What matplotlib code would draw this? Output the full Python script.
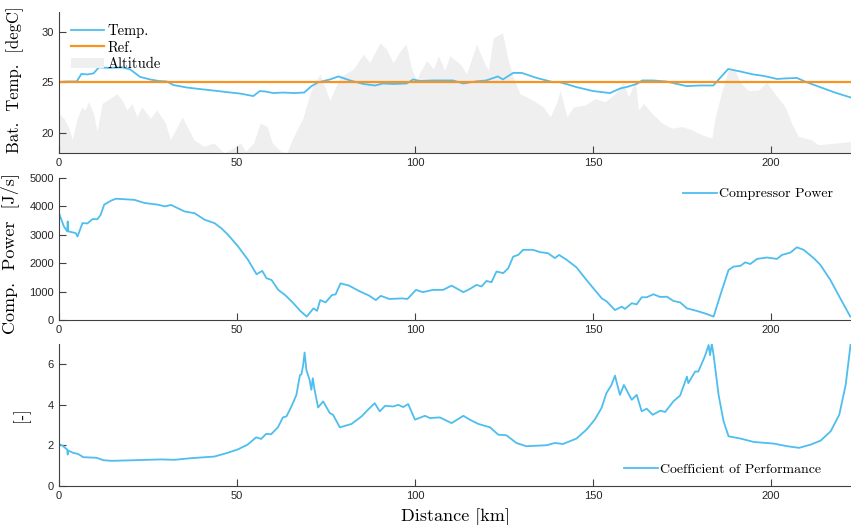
import matplotlib
matplotlib.use("Agg")
import matplotlib.pyplot as plt
from matplotlib.patches import Patch

# battery temperature along the route [km, degC]
temp_km = [0, 2, 5, 6.3, 8, 9.7, 11.2, 14, 17.8, 20, 22.8, 25.6, 28, 30.3, 32.1, 35.9,
           39.5, 43.4, 47, 50.9, 54.6, 56.4, 58, 60.2, 63, 66, 68.9, 70.8, 72.7, 76.1,
           78.5, 81.8, 85.5, 88.8, 91, 94, 97.7, 99.5, 101.4, 105, 110.7, 113.6, 117,
           120, 123.3, 124.7, 127.6, 130, 134.2, 138.8, 140.7, 145.4, 150, 154.8, 157.6,
           160, 162.4, 163.8, 166.9, 170.6, 176.3, 180, 183.8, 188, 191.3, 195, 198,
           201.7, 204, 207.3, 210, 213.8, 218, 222.5]
temp_val = [25.05, 25.1, 25.1, 25.85, 25.8, 25.9, 26.5, 26.45, 26.5, 26.3, 25.55, 25.3,
            25.15, 25.1, 24.75, 24.5, 24.35, 24.2, 24.05, 23.9, 23.65, 24.15, 24.1,
            23.95, 24.0, 23.95, 24.0, 24.6, 25.0, 25.3, 25.6, 25.2, 24.85, 24.7, 24.9,
            24.85, 24.9, 25.3, 25.15, 25.2, 25.2, 24.9, 25.1, 25.2, 25.6, 25.3, 25.95,
            25.95, 25.45, 25.03, 25.03, 24.54, 24.15, 23.95, 24.4, 24.6, 24.87, 25.2,
            25.2, 25.1, 24.64, 24.7, 24.7, 26.34, 26.1, 25.8, 25.65, 25.35, 25.4, 25.45,
            25.03, 24.54, 24.0, 23.5]
ref_temp = 25.0

# road altitude [km, m]
alt_km = [0, 0.8, 1.4, 2.8, 3.7, 5.0, 6.4, 7.3, 8.3, 9.7, 10.7, 12.1, 13.5, 14.9, 16.3,
          17.7, 19.1, 20.5, 21.9, 23.3, 25.7, 27.5, 29.9, 31.3, 32.8, 34.6, 36.0, 37.9,
          40.7, 43.5, 46.3, 49.0, 51.0, 52.4, 54.7, 56.5, 58.5, 59.9, 62.3, 64.0, 65.5,
          68.5, 70.8, 73.3, 76.1, 78.9, 82.7, 85.5, 87.3, 90.2, 92.0, 93.9, 96.2, 97.5,
          99.1, 100.5, 101.4, 103.3, 105.2, 106.6, 108.4, 109.8, 112.7, 114.5, 117.3,
          119.2, 120.6, 122.0, 124.6, 126.2, 127.6, 129.5, 133.2, 136.0, 138.0, 139.9,
          140.8, 142.7, 144.6, 147.8, 150.6, 153.4, 156.2, 158.5, 160.0, 161.9, 162.8,
          164.2, 166.6, 169.4, 172.2, 175.0, 177.8, 180.6, 183.4, 184.4, 186.3, 188.0,
          189.8, 191.3, 193.6, 196.4, 198.8, 201.1, 204.0, 205.8, 207.7, 211.4, 213.3,
          218.9, 222.5]
alt_m = [197, 180, 172, 123, 66, 164, 229, 213, 254, 197, 107, 246, 262, 278, 294,
         262, 213, 246, 180, 229, 172, 213, 148, 66, 115, 180, 131, 66,
         33, 50, 0, 25, 50, 8, 50, 148, 131, 50, 8, 0, 66,
         172, 311, 393, 262, 376, 417, 490, 449, 547, 515, 449, 515, 540,
         417, 360, 401, 458, 417, 482, 409, 482, 442, 393, 540,
         458, 409, 572, 597, 458, 376, 294, 262, 229, 180, 254,
         311, 180, 229, 238, 270, 254, 294, 351, 278, 360, 213,
         246, 197, 148, 123, 131, 115, 90, 74, 180, 311, 409,
         417, 351, 311, 311, 351, 294, 229, 148, 82, 66, 41,
         50, 58]

# compressor power [km, J/s]
pow_km = [0, 0.01, 0.5, 1.4, 2.3, 2.45, 2.6, 4.7, 5.2, 6.6, 8, 9.4, 10.8, 11.7, 12.7,
          14.6, 16, 21.2, 24, 27.8, 29.7, 31.5, 35.3, 38.1, 40.9, 43.7, 45.6, 47.5,
          50.3, 53.1, 55.5, 57.1, 58.3, 59.7, 61.6, 63.5, 65.4, 67.8, 69.6, 71.5, 72.5,
          73.4, 74.9, 76.7, 77.7, 79.1, 81.5, 84.3, 87.1, 89, 90.4, 92.8, 96.5, 97.9,
          100.3, 102.2, 105.1, 107.9, 110.3, 113.6, 115.4, 117.3, 118.7, 120.1, 121.5,
          122.9, 124.8, 126.2, 127.6, 129, 130.4, 133.2, 135.1, 137.4, 139.3, 140.5,
          142.6, 145.4, 147.8, 150.1, 152.5, 153.9, 156.2, 158.1, 159, 160.9, 162.3,
          163.7, 165.1, 167, 168.9, 170.8, 172.6, 174.5, 176.4, 179.2, 182, 183.9,
          185.8, 188.1, 189.5, 191.4, 192.8, 194.2, 196.1, 198.9, 201.7, 203.1, 205.5,
          207.3, 209.2, 212, 213.9, 216.7, 219.5, 222.3]
pow_val = [1940, 3760, 3590, 3290, 3120, 3470, 3120, 3060, 2940, 3410, 3400, 3550, 3550,
           3700, 4060, 4200, 4270, 4230, 4120, 4060, 4000, 4050, 3820, 3760, 3530, 3410,
           3230, 3000, 2590, 2120, 1610, 1730, 1470, 1410, 1060, 880, 650, 320, 120, 410,
           320, 700, 620, 880, 900, 1290, 1210, 1020, 860, 700, 850, 740, 760, 740, 1060,
           980, 1060, 1060, 1210, 980, 1090, 1235, 1180, 1375, 1330, 1705, 1650, 1820,
           2230, 2290, 2470, 2470, 2390, 2350, 2180, 2290, 2120, 1850, 1470, 1120, 760,
           650, 350, 470, 390, 590, 550, 800, 800, 905, 810, 820, 670, 620, 410, 320,
           210, 120, 880, 1760, 1880, 1905, 2030, 1970, 2150, 2200, 2150, 2290, 2375,
           2560, 2470, 2180, 1940, 1410, 760, 120]

# coefficient of performance [km, -]
cop_km = [0, 0.01, 0.9, 2.3, 2.45, 2.6, 4, 5.4, 6.8, 10.6, 12.5, 14.8, 21, 28.6, 32.4,
          37, 43.6, 47.3, 50.2, 53, 55.4, 56.8, 58.2, 59.6, 61.5, 62.9, 63.9, 65.3,
          66.7, 67.7, 68.1, 68.6, 69, 69.5, 70.4, 70.9, 71.3, 71.8, 72.8, 74.2, 76.1,
          77, 78.9, 82.2, 85, 86.8, 88.7, 90.1, 91.6, 93.9, 95.3, 96.7, 98.1, 100,
          102.8, 104.2, 107, 110.3, 113.6, 115.4, 117.8, 121.1, 123.4, 125.7, 128.5,
          131.3, 137, 139.3, 141.6, 145.4, 148.2, 150.5, 152.4, 153.8, 155.2, 156.2,
          156.6, 157.6, 158.7, 160.9, 162.3, 163.7, 165.1, 166.8, 168.9, 170.3, 172.6,
          174.5, 176.4, 176.8, 178.7, 179.6, 181, 181.5, 182.5, 182.9, 183.4, 183.9,
          185.3, 186.7, 188.1, 191.4, 195.2, 200.8, 204.6, 207.9, 211.2, 214, 216.8,
          219.2, 221, 222.4]
cop_val = [0, 2.07, 2.0, 1.8, 1.55, 1.75, 1.63, 1.58, 1.42, 1.39, 1.27, 1.24, 1.27, 1.31,
           1.29, 1.37, 1.45, 1.63, 1.8, 2.04, 2.4, 2.32, 2.57, 2.55, 2.89, 3.38, 3.43,
           3.92, 4.49, 5.47, 5.5, 5.96, 6.58, 5.72, 5.23, 4.74, 5.31, 4.74, 3.87, 4.17,
           3.59, 3.51, 2.89, 3.06, 3.43, 3.76, 4.08, 3.68, 3.95, 3.92, 4.0, 3.89, 4.04,
           3.27, 3.46, 3.35, 3.38, 3.1, 3.46, 3.27, 3.06, 2.89, 2.53, 2.5, 2.12, 1.96,
           2.01, 2.12, 2.07, 2.34, 2.78, 3.27, 3.84, 4.58, 4.98, 5.44, 5.15, 4.49, 4.98,
           4.25, 4.49, 3.68, 3.81, 3.51, 3.71, 3.65, 4.17, 4.46, 5.39, 5.07, 5.64, 5.64,
           6.21, 6.42, 6.95, 6.45, 7.0, 6.45, 4.49, 3.19, 2.45, 2.34, 2.17, 2.09, 1.96,
           1.88, 2.04, 2.24, 2.7, 3.51, 4.98, 7.0]

blue = '#4DBEEE'
orange = '#F7931E'
grey_fill = '#EFEFEF'
axis_col = '#404040'
x_max = 222.5

plt.rcParams['font.family'] = 'Liberation Sans'
plt.rcParams['font.size'] = 8
label_font = {'family': 'cmr10'}
legend_font = {'family': 'cmr10', 'size': 10}

fig = plt.figure(figsize=(8.51, 5.25), dpi=100)
ax1 = fig.add_axes([0.0693, 0.7086, 0.9307, 0.2686])
ax2 = fig.add_axes([0.0693, 0.3905, 0.9307, 0.2705])
ax3 = fig.add_axes([0.0693, 0.0743, 0.9307, 0.2705])

for ax in (ax1, ax2, ax3):
    ax.spines['top'].set_visible(False)
    ax.spines['right'].set_visible(False)
    ax.spines['left'].set_color(axis_col)
    ax.spines['bottom'].set_color(axis_col)
    ax.tick_params(direction='in', length=5, colors=axis_col, labelcolor='#262626')
    ax.set_xlim(0, x_max)
    ax.set_xticks([0, 50, 100, 150, 200])

# altitude profile on its own hidden scale behind the temperature
ax_alt = ax1.twinx()
ax_alt.fill_between(alt_km, 0, alt_m, color=grey_fill, lw=0)
ax_alt.set_ylim(0, 700)
ax_alt.set_xlim(0, x_max)
ax_alt.axis('off')
ax1.set_zorder(ax_alt.get_zorder() + 1)
ax1.patch.set_visible(False)

l_temp, = ax1.plot(temp_km, temp_val, color=blue, lw=1.3)
l_ref = ax1.axhline(ref_temp, color=orange, lw=1.6)
ax1.set_ylim(18, 32)
ax1.set_yticks([20, 25, 30])
ax1.set_ylabel('Bat.  Temp.  [degC]', fontdict=label_font, fontsize=12)
ax1.yaxis.set_label_coords(-0.044, 0.52)
ax1.legend([l_temp, l_ref, Patch(facecolor=grey_fill, edgecolor='none')],
           ['Temp.', 'Ref.', 'Altitude'], loc='upper left', frameon=False,
           prop={'family': 'cmr10', 'size': 10.5}, handlelength=2.3,
           labelspacing=0.22, borderaxespad=0.4, handletextpad=0.2,
           bbox_to_anchor=(0.0, 1.0))

ax2.plot(pow_km, pow_val, color=blue, lw=1.3, label='Compressor Power')
ax2.set_ylim(0, 5000)
ax2.set_yticks([0, 1000, 2000, 3000, 4000, 5000])
ax2.set_ylabel('Comp.  Power  [J/s]', fontdict=label_font, fontsize=13)
ax2.yaxis.set_label_coords(-0.05, 0.47)
ax2.legend(loc='upper right', frameon=False, prop=legend_font,
           handlelength=2.4, handletextpad=0.2, borderaxespad=0.3,
           bbox_to_anchor=(0.99, 1.0))

ax3.plot(cop_km, cop_val, color=blue, lw=1.3, label='Coefficient of Performance')
ax3.set_ylim(0, 7)
ax3.set_yticks([0, 2, 4, 6])
ax3.set_ylabel('[-]', fontdict=label_font, fontsize=12)
ax3.yaxis.set_label_coords(-0.037, 0.5)
ax3.set_xlabel('Distance [km]', fontdict=label_font, fontsize=13, labelpad=5)
ax3.legend(loc='lower right', frameon=False, prop=legend_font,
           handlelength=2.4, handletextpad=0.2, borderaxespad=0.3,
           bbox_to_anchor=(0.975, 0.0))

fig.savefig('out.png', dpi=100)
